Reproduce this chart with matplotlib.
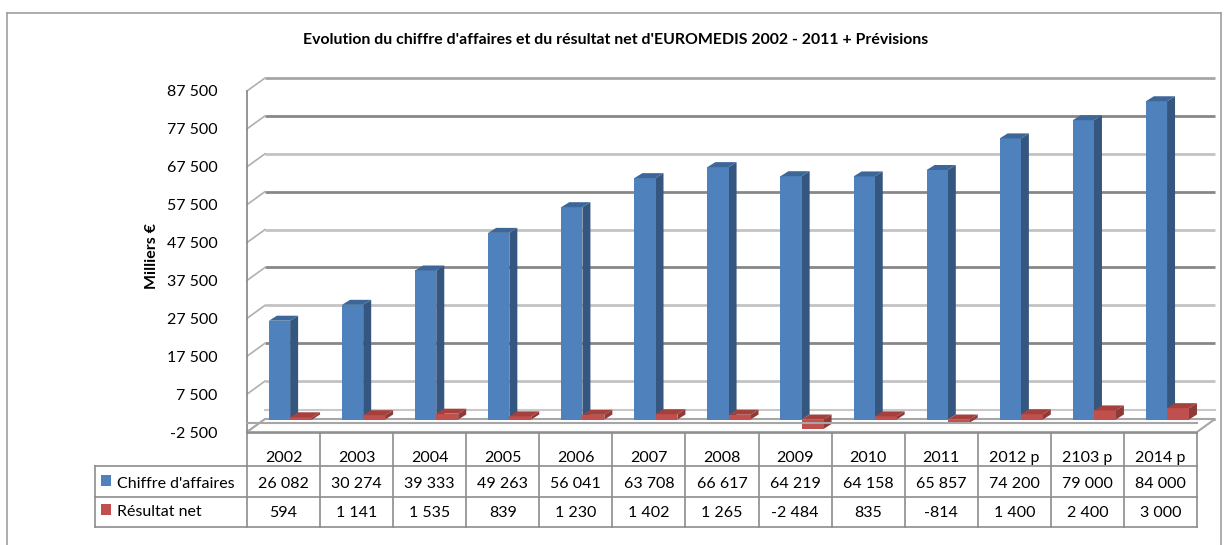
import matplotlib
matplotlib.use("Agg")
import matplotlib.pyplot as plt
from matplotlib import transforms
from matplotlib.patches import Polygon, Rectangle
from matplotlib import font_manager as fm

# ---------------- data ----------------
years = ['2002', '2003', '2004', '2005', '2006', '2007', '2008', '2009', '2010',
         '2011', '2012 p', '2103 p', '2014 p']
chiffre = [26082, 30274, 39333, 49263, 56041, 63708, 66617, 64219, 64158, 65857,
           74200, 79000, 84000]
resultat = [594, 1141, 1535, 839, 1230, 1402, 1265, -2484, 835, -814, 1400, 2400, 3000]
series_names = ["Chiffre d'affaires", "Résultat net"]
yticks = list(range(-2500, 87501, 10000))
title = "Evolution du chiffre d'affaires et du résultat net d'EUROMEDIS 2002 - 2011 + Prévisions"
ylabel = "Milliers €"

# ---------------- fonts ----------------
names = {f.name for f in fm.fontManager.ttflist}
body = 'Lato' if 'Lato' in names else 'DejaVu Sans'
tfont = 'Liberation Sans Narrow' if 'Liberation Sans Narrow' in names else body

W, H = 1226, 545
fig = plt.figure(figsize=(W / 100, H / 100), dpi=100)
fig.patch.set_facecolor('white')

# pixel transform (x from left, y from top)
pix = transforms.Affine2D().scale(1, -1).translate(0, H)

# axes = front plane of the 3D box
x0, x1, ytop, ybot = 247, 1197, 91, 432
ax = fig.add_axes([x0 / W, (H - ybot) / H, (x1 - x0) / W, (ybot - ytop) / H])
n = len(years)
ymin, ymax = yticks[0], yticks[-1]
ax.set_xlim(0, n)
ax.set_ylim(ymin, ymax)
for s in ax.spines.values():
    s.set_visible(False)
ax.set_xticks([])
ax.set_yticks(yticks)
ax.set_yticklabels([f"{v:,}".replace(',', ' ') for v in yticks], fontfamily=body, fontsize=11.5)
ax.tick_params(axis='y', length=0, pad=21)
ax.set_facecolor('none')

pxx = n / (x1 - x0)
pxy = (ymax - ymin) / (ybot - ytop)
def dx(p):
    return p * pxx
def dy(p):
    return p * pxy

WDX, WDY = dx(18), dy(13)        # wall depth
BDX, BDY = dx(8), dy(5)          # bar depth
BSH = dy(3)                      # bar front-face lift

# back-wall gridlines + left wall diagonals
for k, v in enumerate(yticks[::-1]):
    col = '#A6A6A6' if k == 0 else ('#878787' if k % 2 == 1 else '#C3C3C3')
    ax.plot([WDX, n + WDX], [v + WDY, v + WDY], color=col, lw=2.0, zorder=1,
            clip_on=False, solid_capstyle='butt')
    ax.plot([0, WDX], [v, v + WDY], color='#B0B0B0', lw=1.2, zorder=1, clip_on=False)

# back line at zero
ax.plot([WDX, n + WDX], [WDY, WDY], color='#C8C8C8', lw=1.5, zorder=1, clip_on=False)

# floor at the axis minimum
floor = Polygon([(0, ymin), (n, ymin), (n + WDX, ymin + WDY), (WDX, ymin + WDY)],
                closed=True, facecolor='white', edgecolor='#A6A6A6', lw=1.5, zorder=1.5,
                clip_on=False)
ax.add_patch(floor)

# left wall front edge
ax.plot([0, 0], [ymin, ymax], color='#8C8C8C', lw=1.3, zorder=2, clip_on=False)

def bar3d(xl, w, v, front, side, top):
    lo, hi = min(0, v), max(0, v)
    xr = xl + w
    ax.add_patch(Polygon([(xr, lo + BSH), (xr + BDX, lo + BSH + BDY),
                          (xr + BDX, hi + BSH + BDY), (xr, hi + BSH)],
                         closed=True, facecolor=side, edgecolor='none', zorder=3, clip_on=False))
    ax.bar(xl, hi - lo, width=w, bottom=lo + BSH, align='edge', color=front,
           edgecolor='none', zorder=3.1, clip_on=False)
    ax.add_patch(Polygon([(xl, hi + BSH), (xr, hi + BSH), (xr + BDX, hi + BSH + BDY),
                          (xl + BDX, hi + BSH + BDY)],
                         closed=True, facecolor=top, edgecolor='none', zorder=3.2, clip_on=False))

blue = ('#4F81BD', '#34567F', '#3D6799')
red = ('#C0504D', '#8E3A38', '#A5403D')
for i in range(n):
    bar3d(i + 0.30, 0.29, chiffre[i], *blue)
    bar3d(i + 0.59, 0.30, resultat[i], *red)

# front category axis line at 0
ax.plot([0, n], [0, 0], color='#A6A6A6', lw=1.5, zorder=10, clip_on=False)

# ---------------- data table ----------------
bt = transforms.blended_transform_factory(ax.transData, pix)
lc = '#8C8C8C'
lw = 1.2
r0, r1, r2, r3 = 433, 466, 497, 527
lx = 95
# horizontal lines
fig.add_artist(plt.Line2D([0, n], [r0, r0], transform=bt, color=lc, lw=lw))
for yy in (r1, r2, r3):
    fig.add_artist(plt.Line2D([lx, x0 - 1], [yy, yy], transform=pix, color=lc, lw=lw))
    fig.add_artist(plt.Line2D([0, n], [yy, yy], transform=bt, color=lc, lw=lw))
# vertical lines
for k in range(n + 1):
    fig.add_artist(plt.Line2D([k, k], [r0, r3], transform=bt, color=lc, lw=lw))
fig.add_artist(plt.Line2D([lx, lx], [r1, r3], transform=pix, color=lc, lw=lw))

for i in range(n):
    fig.text(i + 0.5, 462, years[i], transform=bt, ha='center', va='baseline',
             fontfamily=body, fontsize=11.5)
    fig.text(i + 0.5, 488, f"{chiffre[i]:,}".replace(',', ' '), transform=bt,
             ha='center', va='baseline', fontfamily=body, fontsize=11.5)
    fig.text(i + 0.5, 517, f"{resultat[i]:,}".replace(',', ' '), transform=bt,
             ha='center', va='baseline', fontfamily=body, fontsize=11.5)

for (yy, name, col) in ((475, series_names[0], blue[0]), (504, series_names[1], red[0])):
    fig.add_artist(Rectangle((101, yy), 10, 11, transform=pix, facecolor=col,
                             edgecolor='none'))
    fig.text(117, yy + 12.5, name, transform=pix, ha='left', va='baseline',
             fontfamily=body, fontsize=11.5)

# ---------------- titles ----------------
t = fig.text(616, 40, title, transform=pix, ha='center', va='center',
             fontfamily=tfont, fontweight='bold', fontsize=10)
yl = fig.text(152, 256, ylabel, transform=pix, ha='center', va='center', rotation=90,
              fontfamily=body, fontweight='bold', fontsize=11.5)
r = fig.canvas.get_renderer()
w = t.get_window_extent(r).width
t.set_fontsize(10 * 628 / w)

# chart border
for seg in (([7, 7], [13, H]), ([7, 1221], [13, 13]), ([1221, 1221], [13, H])):
    fig.add_artist(plt.Line2D(seg[0], seg[1], transform=pix, color='#A0A0A0', lw=1.2))

fig.savefig('out.png', dpi=100)
